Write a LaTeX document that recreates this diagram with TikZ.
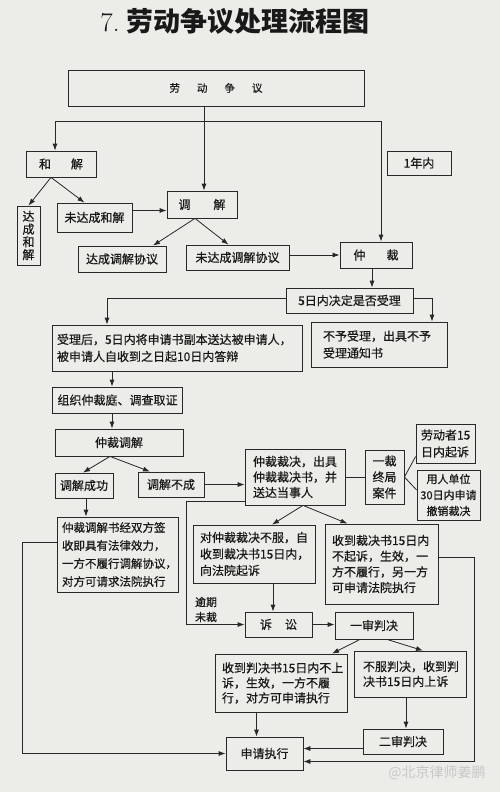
\documentclass[tikz,border=0pt]{standalone}
\usepackage{fontspec}
\newfontfamily\cjk{Noto Sans CJK SC}[FakeBold=0.5]
\newfontfamily\cjkr{Noto Sans CJK SC}
\usetikzlibrary{arrows.meta}
\definecolor{bg}{RGB}{236,236,233}
\definecolor{lc}{RGB}{40,40,40}
\definecolor{tc}{RGB}{25,25,25}
\tikzset{
  box/.style={draw=lc, line width=0.8pt, inner xsep=5pt, inner ysep=2pt, text=tc,
    font=\cjk\fontsize{12}{15.5}\selectfont},
  arr/.style={draw=lc, line width=0.8pt, -{Latex[length=7pt,width=5pt]}},
  ln/.style={draw=lc, line width=0.8pt},
}
\begin{document}
\begin{tikzpicture}[x=1pt,y=-1pt]
\fill[bg] (0,0) rectangle (500,792);
\useasboundingbox (0,0) rectangle (500,792);

\node[text=tc, inner sep=0pt] (title) at (235,21)
  {\fontsize{27}{30}\selectfont 7.\hspace{7pt}{\cjkr\bfseries 劳动争议处理流程图}};

\node[box, minimum width=296pt, minimum height=36pt, font=\cjk\fontsize{10.5}{12}\selectfont] (ldzy) at (216,88) {劳\hspace{17pt}动\hspace{17pt}争\hspace{17pt}议};
\node[box, minimum width=70pt, minimum height=26pt] (hj) at (61,164) {和\hspace{20pt}解};
\node[box, minimum width=23pt, minimum height=59pt, inner xsep=0pt, align=center, font=\cjk\fontsize{12}{12.8}\selectfont] (dchj) at (28.5,235.5) {达\\成\\和\\解};
\node[box, minimum width=75pt, minimum height=29pt] (wdchj) at (94.5,217.5) {未达成和解};
\node[box, minimum width=70pt, minimum height=27pt] (tj) at (202,204.5) {调\hspace{23pt}解};
\node[box, minimum width=88pt, minimum height=26pt] (dctj) at (122,259) {达成调解协议};
\node[box, minimum width=103pt, minimum height=25pt] (wdctj) at (237.5,257.5) {未达成调解协议};
\node[box, minimum width=72pt, minimum height=26pt] (zc) at (376,255) {仲\hspace{21pt}裁};
\node[box, minimum width=64pt, minimum height=24pt] (yn) at (419,163) {1年内};
\node[box, minimum width=127pt, minimum height=25pt] (wr) at (349.5,300.5) {5日内决定是否受理};
\node[box, text width=240pt, minimum height=46pt, align=left, font=\cjk\fontsize{12}{17}\selectfont] (slh) at (177,348)
  {受理后，5日内将申请书副本送达被申请人，\\被申请人自收到之日起10日内答辩};
\node[box, inner xsep=12pt, text width=112pt, minimum height=45pt, align=left, font=\cjk\fontsize{12}{17}\selectfont] (bysl) at (379,344.5)
  {不予受理，出具不予\\受理通知书};
\node[box, minimum width=129pt, minimum height=26pt] (zz) at (117.5,400) {组织仲裁庭、调查取证};
\node[box, minimum width=128pt, minimum height=27pt] (zctj) at (119,442.5) {仲裁调解};
\node[box, minimum width=58pt, minimum height=25pt, inner xsep=2pt] (tjcg) at (84,485.5) {调解成功};
\node[box, minimum width=66pt, minimum height=25pt] (tjbc) at (171,484.5) {调解不成};
\node[box, text width=111pt, minimum height=75pt, align=left, font=\cjk\fontsize{11.5}{18}\selectfont] (zctjs) at (117.5,554.5)
  {仲裁调解书经双方签\\收即具有法律效力，\\一方不履行调解协议，\\对方可请求法院执行};
\node[box, inner xsep=8pt, text width=84pt, minimum height=56pt, align=left] (zccj) at (295,477)
  {仲裁裁决，出具\\仲裁裁决书，并\\送达当事人};
\node[box, minimum width=39pt, minimum height=54pt, inner xsep=0pt, align=center, font=\cjk\fontsize{12}{16}\selectfont] (yczj) at (384.5,477)
  {一裁\\终局\\案件};
\node[box, text width=49pt, minimum height=39pt, align=left, font=\cjk\fontsize{12}{17}\selectfont] (ldz) at (445.5,443.5)
  {劳动者15\\日内起诉};
\node[box, minimum width=63pt, minimum height=50pt, inner xsep=1pt, align=center, font=\cjk\fontsize{11}{16}\selectfont] (yrdw) at (448.5,495)
  {用人单位\\30日内申请\\撤销裁决};
\node[box, inner xsep=7pt, text width=108pt, minimum height=58pt, align=left, font=\cjk\fontsize{12}{16.5}\selectfont] (dzccj) at (254,554)
  {对仲裁裁决不服，自\\收到裁决书15日内，\\向法院起诉};
\node[box, inner xsep=7pt, text width=99pt, minimum height=80pt, align=left, font=\cjk\fontsize{12}{15.7}\selectfont] (sdcjs) at (381.5,564)
  {收到裁决书15日内\\不起诉，生效，一\\方不履行，另一方\\可申请法院执行};
\node[box, minimum width=67pt, minimum height=25pt] (ss) at (278.5,624.5) {诉\hspace{13pt}讼};
\node[box, minimum width=78pt, minimum height=27pt] (ysp) at (374,625.5) {一审判决};
\node[box, inner xsep=7pt, text width=118pt, minimum height=58pt, align=left, font=\cjk\fontsize{12}{15}\selectfont] (sdpjs) at (281,683)
  {收到判决书15日内不上\\诉，生效，一方不履\\行，对方可申请执行};
\node[box, inner xsep=9pt, text width=94pt, minimum height=46pt, align=left, font=\cjk\fontsize{12}{15}\selectfont] (bfpj) at (410,674)
  {不服判决，收到判\\决书15日内上诉};
\node[box, minimum width=80pt, minimum height=25pt] (esp) at (403,741.5) {二审判决};
\node[box, minimum width=77pt, minimum height=33pt] (sqzx) at (264.5,753.5) {申请执行};
\node[inner sep=0pt, align=left, text=tc, font=\cjk\fontsize{11}{15}\selectfont] (yq) at (206,609.5) {逾期\\未裁};
\node[inner sep=0pt, text=black!22, font=\cjkr\fontsize{14}{16}\selectfont] (wm) at (437,773) {@北京律师姜鹏};

% connectors
\coordinate (j1) at (204,121);
\draw[ln] (ldzy.south -| j1) -- (j1);
\draw[arr] (j1) -- (j1 |- tj.north);
\draw[arr] (j1) -| ([xshift=-6pt]hj.north);
\draw[arr] (j1) -| ([xshift=5pt]zc.north);

\coordinate (h1) at ([xshift=-10pt]hj.south);
\draw[arr] (h1) -- (dchj.north);
\draw[arr] (h1) -- ([xshift=-10pt]wdchj.north);
\coordinate (tjw) at ([yshift=-6pt]tj.west);
\draw[arr] (wdchj.east |- tjw) -- (tjw);
\coordinate (t1) at ([xshift=-7pt]tj.south);
\draw[arr] (t1) -- ([xshift=31pt]dctj.north);
\draw[arr] (t1) -- ([xshift=-9pt]wdctj.north);
\draw[arr] (wdctj.east |- zc.west) -- (zc.west);

\coordinate (a0) at ([xshift=-4pt]zc.south);
\draw[arr] (a0) -- (a0 |- wr.north);
\draw[arr] ([yshift=2pt]wr.west) -| ([xshift=-70pt]slh.north);
\draw[arr] ([yshift=2pt]wr.east) -| ([xshift=53pt]bysl.north);
\coordinate (a1) at ([xshift=-65pt]slh.south);
\draw[arr] (a1) -- (a1 |- zz.north);
\coordinate (a2) at ([xshift=-5.5pt]zz.south);
\draw[arr] (a2) -- (a2 |- zctj.north);
\coordinate (zs) at ([xshift=-9pt]zctj.south);
\draw[arr] (zs) -- ([xshift=-1pt]tjcg.north);
\draw[arr] (zs) -- ([xshift=-21pt]tjbc.north);
\draw[arr] (tjbc.east) -- (tjbc.east -| zccj.west);
\coordinate (a3) at ([xshift=2pt]tjcg.south);
\draw[arr] (a3) -- (a3 |- zctjs.north);

\coordinate (L) at (22,0);
\draw[arr] ([yshift=12pt]zctjs.west) -| (L |- sqzx.west) -- (sqzx.west);
\coordinate (L2) at (186,0);
\draw[arr] ([yshift=4pt]zccj.south west) -| (L2 |- ss.west) -- (ss.west);

\draw[ln] (zccj.east) -- (yczj.west);
\draw[ln] (yczj.east) -- ([yshift=-13pt]ldz.west);
\draw[ln] (yczj.east) -- ([yshift=5pt]yrdw.west);

\coordinate (zcs) at ([xshift=8pt]zccj.south);
\draw[arr] (zcs) -- ([xshift=18pt]dzccj.north);
\draw[arr] (zcs) -- ([xshift=-34pt]sdcjs.north);

\coordinate (R) at (474,0);
\coordinate (sqr) at ([yshift=-8pt]sqzx.east);
\draw[arr] ([yshift=7pt]sdcjs.east) -| (R |- sqr) -- (sqr);

\coordinate (ssn) at ([xshift=-5.5pt]ss.north);
\draw[arr] (ssn |- dzccj.south) -- (ssn);
\draw[arr] (ss.east) -- (ss.east -| ysp.west);
\coordinate (ys1) at ([xshift=-14pt]ysp.south);
\coordinate (ys2) at ([xshift=13pt]ysp.south);
\draw[arr] (ys1) -- ([xshift=51pt]sdpjs.north);
\draw[arr] (ys2) -- ([xshift=13pt]bfpj.north);
\coordinate (c1) at ([xshift=-8pt]sqzx.north);
\draw[arr] (sdpjs.south -| c1) -- (c1);
\coordinate (c2) at ([xshift=3pt]esp.north);
\draw[arr] (bfpj.south -| c2) -- (c2);
\coordinate (c3) at ([yshift=5pt]sqzx.east);
\draw[arr] (esp.west |- c3) -- (c3);
\end{tikzpicture}
\end{document}
